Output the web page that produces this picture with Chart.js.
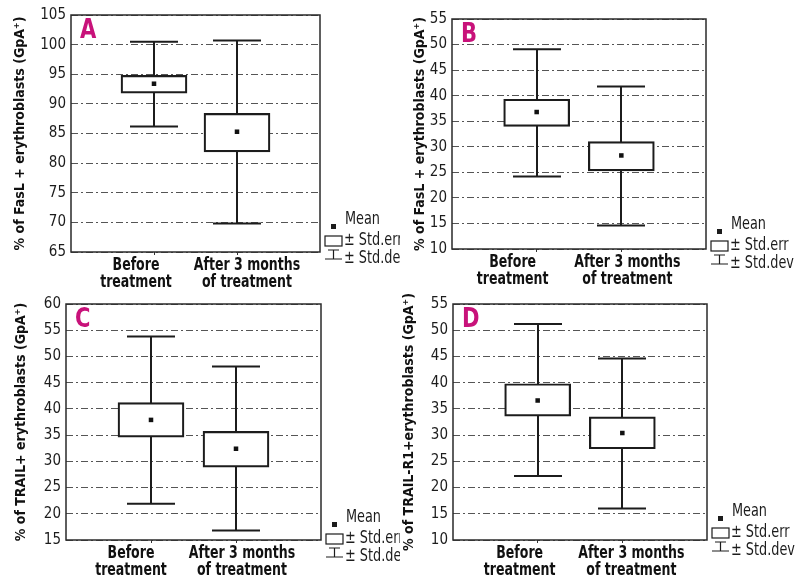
<!DOCTYPE html>
<html>
<head>
<meta charset="utf-8">
<script src="https://cdn.jsdelivr.net/npm/chart.js@4.4.0/dist/chart.umd.min.js"></script>
<style>
  body { margin: 0; background: #fff; }
  #wrap { position: relative; width: 797px; height: 580px; overflow: hidden; }
  .panel { position: absolute; }
</style>
</head>
<body>
<div id="wrap">
  <div class="panel" style="left:0;top:0"><canvas id="chartA" width="400" height="290"></canvas></div>
  <div class="panel" style="left:400px;top:0"><canvas id="chartB" width="397" height="290"></canvas></div>
  <div class="panel" style="left:0;top:290px"><canvas id="chartC" width="400" height="290"></canvas></div>
  <div class="panel" style="left:400px;top:290px"><canvas id="chartD" width="397" height="290"></canvas></div>
</div>
<script>
const groups = [['Before', 'treatment'], ['After 3 months', 'of treatment']];

// A: FasL+ erythroblasts
const fasMean = [93.4, 85.3];
const fasErr = [[91.8, 94.8], [81.9, 88.4]];
const fasDev = [[86.2, 100.5], [69.8, 100.7]];

// B: FasL+ erythroblasts (second group)
const fas2Mean = [36.8, 28.3];
const fas2Err = [[34.0, 39.3], [25.3, 31.0]];
const fas2Dev = [[24.2, 49.1], [14.6, 41.8]];

// C: TRAIL+ erythroblasts
const trailMean = [37.9, 32.4];
const trailErr = [[34.6, 41.2], [28.9, 35.7]];
const trailDev = [[21.9, 53.8], [16.8, 48.1]];

// D: TRAIL-R1+ erythroblasts
const trailR1Mean = [36.6, 30.4];
const trailR1Err = [[33.6, 39.8], [27.4, 33.5]];
const trailR1Dev = [[22.2, 51.2], [16.0, 44.6]];

const legendLabels = ['Mean', '± Std.err', '± Std.dev'];

const FONT = "'Liberation Sans Narrow', 'DejaVu Sans Condensed', 'Roboto Condensed', 'Liberation Sans', sans-serif";
const INK = '#1c1c1c';

// text squeezed sideways, the print uses a very narrow face
function narrowText(ctx, text, x, y, sx, align) {
  ctx.save();
  ctx.translate(x, y);
  ctx.scale(sx, 1);
  ctx.textAlign = align || 'left';
  ctx.fillText(text, 0, 0);
  ctx.restore();
}

// whiskers (± std.dev) drawn from the scales, under the boxes
const whiskerPlugin = {
  id: 'whiskers',
  beforeDatasetsDraw(chart, args, opts) {
    const {ctx, scales: {x, y}} = chart;
    ctx.save();
    ctx.strokeStyle = INK;
    ctx.lineWidth = 2;
    opts.ranges.forEach((r, i) => {
      const px = Math.round(x.getPixelForValue(i + 1));
      const lo = y.getPixelForValue(r[0]);
      const hi = y.getPixelForValue(r[1]);
      ctx.beginPath();
      ctx.moveTo(px, lo); ctx.lineTo(px, hi);
      ctx.moveTo(px - opts.cap, hi); ctx.lineTo(px + opts.cap, hi);
      ctx.moveTo(px - opts.cap, lo); ctx.lineTo(px + opts.cap, lo);
      ctx.stroke();
    });
    ctx.restore();
  }
};

// frame, panel letter, group labels and the little legend at the right
const decorPlugin = {
  id: 'decor',
  afterDraw(chart, args, opts) {
    const {ctx, chartArea: a, scales: {x}} = chart;
    ctx.save();
    ctx.strokeStyle = '#2a2a2a';
    ctx.lineWidth = 1.5;
    ctx.strokeRect(a.left, a.top, a.right - a.left, a.bottom - a.top);

    ctx.fillStyle = '#c8127a';
    ctx.font = 'bold 26px ' + FONT;
    ctx.textBaseline = 'top';
    narrowText(ctx, opts.letter, a.left + 9, a.top + 3, 0.9);

    // group labels under the axis
    ctx.fillStyle = '#111';
    ctx.font = 'bold 17px ' + FONT;
    ctx.textBaseline = 'alphabetic';
    groups.forEach((lines, i) => {
      const cx = x.getPixelForValue(i + 1) + opts.labelShift[i];
      lines.forEach((t, k) => narrowText(ctx, t, cx, a.bottom + 18 + k * 17, 0.82, 'center'));
    });

    // legend
    const lx = a.right + 5;
    const ly = a.bottom + opts.legendY;
    ctx.fillStyle = INK;
    ctx.strokeStyle = INK;
    ctx.lineWidth = 1.2;
    ctx.font = '17px ' + FONT;
    ctx.textBaseline = 'middle';
    ctx.fillRect(lx + 6, ly - 2, 5, 5);
    narrowText(ctx, legendLabels[0], lx + 20, ly - 6, 0.84);
    ctx.strokeRect(lx, ly + 10, 17, 10);
    narrowText(ctx, legendLabels[1], lx + 19, ly + 15, 0.84);
    ctx.beginPath();
    ctx.moveTo(lx + 3, ly + 24); ctx.lineTo(lx + 14, ly + 24);
    ctx.moveTo(lx + 8.5, ly + 24); ctx.lineTo(lx + 8.5, ly + 33);
    ctx.moveTo(lx, ly + 33); ctx.lineTo(lx + 17, ly + 33);
    ctx.stroke();
    narrowText(ctx, legendLabels[2], lx + 19, ly + 33, 0.84);
    ctx.restore();
  }
};

function makePanel(id, cfg) {
  new Chart(document.getElementById(id), {
    type: 'bar',
    data: {
      datasets: [{
        type: 'scatter',
        data: cfg.mean.map((m, i) => ({x: i + 1, y: m})),
        pointStyle: 'rect',
        pointRadius: 3.2,
        backgroundColor: '#111',
        borderWidth: 0,
        order: 0
      }, {
        type: 'bar',
        data: cfg.err.map((e, i) => ({x: i + 1, y: e})),
        backgroundColor: '#fff',
        borderColor: INK,
        borderWidth: 2.2,
        borderSkipped: false,
        barThickness: 66,
        order: 1
      }]
    },
    options: {
      responsive: false,
      animation: false,
      layout: {
        padding: {left: cfg.left, top: cfg.top, right: cfg.right, bottom: 0}
      },
      scales: {
        x: {
          type: 'linear',
          min: 0,
          max: 3,
          offset: false,
          afterBuildTicks: s => { s.ticks = [{value: 1}, {value: 2}]; },
          afterFit: s => { s.height = cfg.xh; },
          grid: {offset: false, drawOnChartArea: false, drawTicks: true, tickLength: 3, color: '#333'},
          border: {display: false},
          ticks: {display: false}
        },
        y: {
          min: cfg.min,
          max: cfg.max,
          afterFit: s => { s.width = cfg.yw; },
          grid: {color: '#555', lineWidth: 1, drawTicks: false},
          border: {display: false, dash: [7, 3, 2, 3]},
          ticks: {
            stepSize: 5,
            font: {family: FONT, size: 15},
            color: INK,
            padding: 5
          },
          title: {
            display: true,
            text: cfg.title,
            font: {family: FONT, size: 14, weight: 'bold'},
            color: '#111',
            padding: {top: 0, bottom: 2}
          }
        }
      },
      plugins: {
        legend: {display: false},
        tooltip: {enabled: false},
        whiskers: {ranges: cfg.dev, cap: 24},
        decor: {letter: cfg.letter, legendY: cfg.legendY, labelShift: cfg.shift}
      }
    },
    plugins: [whiskerPlugin, decorPlugin]
  });
}

makePanel('chartA', {
  letter: 'A', title: '% of FasL + erythroblasts (GpA⁺)',
  mean: fasMean, err: fasErr, dev: fasDev, min: 65, max: 105,
  left: 12, top: 15, right: 80, yw: 59, xh: 38, legendY: -26, shift: [-18, 10]
});
makePanel('chartB', {
  letter: 'B', title: '% of FasL + erythroblasts (GpA⁺)',
  mean: fas2Mean, err: fas2Err, dev: fas2Dev, min: 10, max: 55,
  left: 12, top: 19, right: 91, yw: 40, xh: 41, legendY: -18, shift: [-24, 6]
});
makePanel('chartC', {
  letter: 'C', title: '% of TRAIL+ erythroblasts (GpA⁺)',
  mean: trailMean, err: trailErr, dev: trailDev, min: 15, max: 60,
  left: 13, top: 13, right: 79, yw: 53, xh: 40, legendY: -16, shift: [-20, 6]
});
makePanel('chartD', {
  letter: 'D', title: '% of TRAIL-R1+erythroblasts (GpA⁺)',
  mean: trailR1Mean, err: trailR1Err, dev: trailR1Dev, min: 10, max: 55,
  left: 1, top: 13, right: 90, yw: 52, xh: 40, legendY: -22, shift: [-18, 9]
});
</script>
</body>
</html>
